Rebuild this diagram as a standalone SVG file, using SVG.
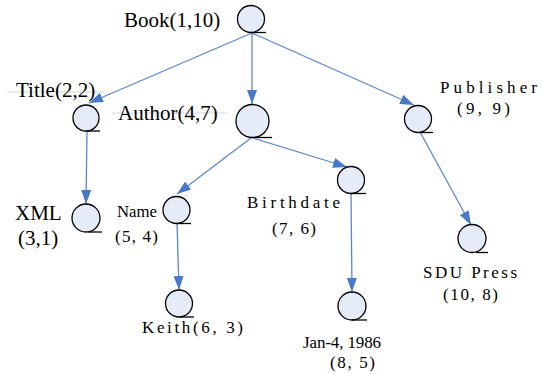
<svg xmlns="http://www.w3.org/2000/svg" width="542" height="374" viewBox="0 0 542 374">
<defs>
<marker id="arr" viewBox="0 0 14 10" refX="14" refY="5" markerWidth="14" markerHeight="10" markerUnits="userSpaceOnUse" orient="auto">
<path d="M0,0 L14,5 L0,10 z" fill="#4a78c8"/>
</marker>
</defs>
<style>
.c{fill:#e6ecf7;stroke:#000;stroke-width:1.3}
.t{stroke:#000;stroke-width:1.3}
.e{stroke:#5b87cf;stroke-width:1.3;fill:none;marker-end:url(#arr)}
.s{font-family:"Liberation Serif","Times New Roman",serif;font-size:21px;fill:#000}
.m{font-family:"Liberation Serif","Times New Roman",serif;font-size:17px;fill:#000}
.g{stroke:#dfe6f0;stroke-width:1.5}
</style>
<rect width="542" height="374" fill="#fff"/>
<line class="g" x1="7" y1="92" x2="105" y2="92"/>
<line class="g" x1="112" y1="113" x2="227" y2="113"/>
<g id="edges">
<line class="e" x1="252" y1="33" x2="89" y2="103"/>
<line class="e" x1="252" y1="33" x2="252" y2="104"/>
<line class="e" x1="252" y1="33" x2="414" y2="105"/>
<line class="e" x1="87" y1="131" x2="86" y2="204"/>
<line class="e" x1="251" y1="138" x2="177" y2="194"/>
<line class="e" x1="253" y1="138" x2="347" y2="167"/>
<line class="e" x1="177" y1="223" x2="179" y2="290"/>
<line class="e" x1="351" y1="194" x2="352" y2="292"/>
<line class="e" x1="420" y1="132" x2="471" y2="225"/>
</g>
<g id="book">
<circle class="c" cx="251" cy="19" r="13.5"/>
<line class="t" x1="251" y1="32.5" x2="266" y2="32.5"/>
<text class="s" x="124" y="27">Book(1,10)</text>
</g>
<g id="title">
<circle class="c" cx="86" cy="118" r="13"/>
<line class="t" x1="87" y1="131" x2="100" y2="131"/>
<text class="s" x="16" y="97">Title(2,2)</text>
</g>
<g id="author">
<circle class="c" cx="252.5" cy="121" r="16.5"/>
<line class="t" x1="252" y1="137.5" x2="272" y2="137.5"/>
<text class="s" x="118" y="120">Author(4,7)</text>
</g>
<g id="publisher">
<circle class="c" cx="418" cy="119" r="13.5"/>
<line class="t" x1="420" y1="132.5" x2="433" y2="132.5"/>
<text class="m" x="440" y="93" textLength="97" lengthAdjust="spacing">Publisher</text>
<text class="m" x="457" y="114" textLength="53" lengthAdjust="spacing">(9, 9)</text>
</g>
<g id="xml">
<circle class="c" cx="86" cy="218" r="14"/>
<line class="t" x1="88" y1="232" x2="102" y2="232"/>
<text class="s" x="15" y="220">XML</text>
<text class="s" x="18" y="245">(3,1)</text>
</g>
<g id="name">
<circle class="c" cx="176.5" cy="210" r="13.5"/>
<line class="t" x1="177" y1="223.5" x2="191" y2="223.5"/>
<text class="m" x="117" y="217" textLength="40" lengthAdjust="spacingAndGlyphs">Name</text>
<text class="m" x="115" y="242" textLength="43" lengthAdjust="spacing">(5, 4)</text>
</g>
<g id="birthdate">
<circle class="c" cx="351" cy="180" r="13.5"/>
<line class="t" x1="351" y1="193.5" x2="366" y2="193.5"/>
<text class="m" x="247" y="208" textLength="93" lengthAdjust="spacing">Birthdate</text>
<text class="m" x="272" y="234" textLength="44" lengthAdjust="spacing">(7, 6)</text>
</g>
<g id="sdupress">
<circle class="c" cx="472" cy="238.5" r="14"/>
<line class="t" x1="476" y1="252.5" x2="488" y2="252.5"/>
<text class="m" x="423" y="278" textLength="94" lengthAdjust="spacing">SDU Press</text>
<text class="m" x="443" y="300" textLength="55" lengthAdjust="spacing">(10, 8)</text>
</g>
<g id="keith">
<circle class="c" cx="179" cy="303.5" r="13.5"/>
<line class="t" x1="180" y1="317" x2="194" y2="317"/>
<text class="m" x="142" y="333" textLength="101" lengthAdjust="spacing">Keith(6, 3)</text>
</g>
<g id="jan">
<circle class="c" cx="352" cy="306" r="14"/>
<line class="t" x1="352" y1="320" x2="367" y2="320"/>
<text class="m" x="303" y="348" textLength="78" lengthAdjust="spacing" font-size="16">Jan-4, 1986</text>
<text class="m" x="330" y="368" textLength="45" lengthAdjust="spacing" font-size="16">(8, 5)</text>
</g>
</svg>
